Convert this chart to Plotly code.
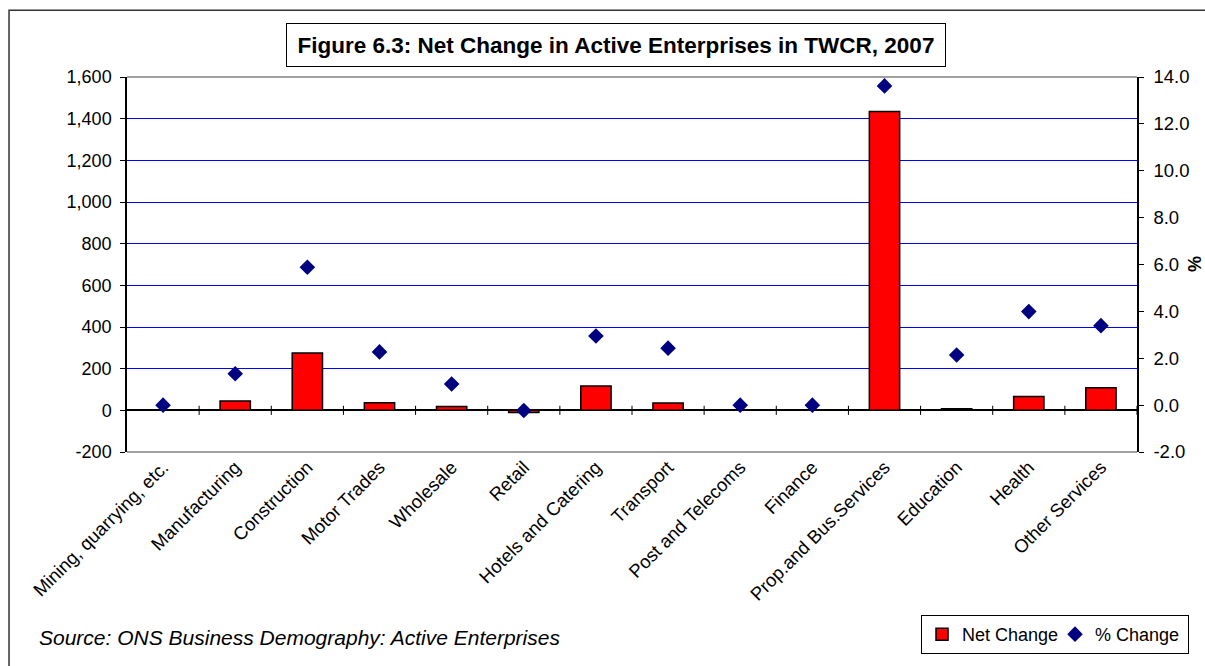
import plotly.graph_objects as go

# Sectors and their net / percentage change in active enterprises
categories = [
    "Mining, quarrying, etc.", "Manufacturing", "Construction", "Motor Trades",
    "Wholesale", "Retail", "Hotels and Catering", "Transport",
    "Post and Telecoms", "Finance", "Prop.and Bus.Services", "Education",
    "Health", "Other Services",
]
net_change = [0, 45, 275, 37, 18, -10, 117, 35, 0, 0, 1435, 8, 67, 108]
pct_change = [0.0, 1.34, 5.88, 2.27, 0.90, -0.23, 2.95, 2.43, 0.0, 0.0, 13.62, 2.14, 3.99, 3.39]

left_ticks = list(range(-200, 1601, 200))
right_ticks = list(range(-2, 15, 2))
left_text = [f"{v:,}" for v in left_ticks]
right_text = [f"{v:.1f}" for v in right_ticks]

FONT = "Liberation Sans, Arial, sans-serif"

fig = go.Figure()

fig.add_trace(go.Bar(
    x=categories, y=net_change, name="Net Change",
    marker=dict(color="#FF0000", line=dict(color="#000000", width=1.5)),
    yaxis="y",
))
fig.add_trace(go.Scatter(
    x=categories, y=pct_change, name="% Change", mode="markers",
    marker=dict(symbol="diamond", color="#000080", size=12),
    yaxis="y2",
))

shapes = []
# plot-area top and bottom border
for yp in (0, 1):
    shapes.append(dict(type="line", xref="paper", yref="paper", x0=0, x1=1, y0=yp, y1=yp,
                       line=dict(color="#808080", width=1.5)))
# tick marks between categories on the zero line
for i in range(len(categories)):
    shapes.append(dict(type="line", xref="x", yref="y", x0=i + 0.5, x1=i + 0.5, y0=-22, y1=22,
                       line=dict(color="#000000", width=1)))
# outer frame around the whole chart
shapes.append(dict(type="rect", xref="paper", yref="paper", x0=-0.1168, x1=1.2, y0=-0.8, y1=1.1777,
                   line=dict(color="#333333", width=1.5), layer="below"))

fig.update_layout(
    width=1205, height=666,
    margin=dict(l=127, r=68, t=77, b=212),
    paper_bgcolor="white", plot_bgcolor="white",
    font=dict(family=FONT, size=18, color="#000000"),
    bargap=0.58,
    showlegend=True,
    legend=dict(
        orientation="h", x=1.0515, y=-0.5385, xanchor="right", yanchor="bottom",
        bordercolor="#000000", borderwidth=1, bgcolor="white",
        font=dict(family=FONT, size=18), itemwidth=30, tracegroupgap=0,
        entrywidth=88, entrywidthmode="pixels",
    ),
    xaxis=dict(
        type="category", range=[-0.5, len(categories) - 0.5],
        tickangle=-45, showline=False, showgrid=False,
        ticks="", tickfont=dict(family=FONT, size=18.5),
    ),
    yaxis=dict(
        range=[-200, 1600], tickvals=left_ticks, ticktext=left_text,
        showline=True, linecolor="#000000", linewidth=1.5,
        ticks="outside", ticklen=5, tickcolor="#000000", ticklabelstandoff=5,
        showgrid=True, gridcolor="#0000FF", gridwidth=1,
        zeroline=True, zerolinecolor="#000000", zerolinewidth=1.5,
        tickfont=dict(family=FONT, size=18),
    ),
    yaxis2=dict(
        range=[-2, 14], tickvals=right_ticks, ticktext=right_text,
        overlaying="y", side="right",
        showline=True, linecolor="#000000", linewidth=1.5,
        ticks="outside", ticklen=5, tickcolor="#000000", ticklabelstandoff=6,
        showgrid=False, zeroline=False,
        tickfont=dict(family=FONT, size=18.5),
    ),
    shapes=shapes,
    annotations=[
        dict(text="<b>Figure 6.3: Net Change in Active Enterprises in TWCR, 2007</b>",
             xref="paper", yref="paper", x=0.4842, y=1.0849, xanchor="center", yanchor="middle",
             showarrow=False, font=dict(family=FONT, size=22.5),
             bordercolor="#000000", borderwidth=1, bgcolor="white",
             width=654, height=38, borderpad=2),
        dict(text="<i>Source: ONS Business Demography: Active Enterprises</i>",
             xref="paper", yref="paper", x=-0.0891, y=-0.4934, xanchor="left", yanchor="middle",
             showarrow=False, font=dict(family=FONT, size=21)),
        dict(text="<b>%</b>", xref="paper", yref="paper", x=1.0565, y=0.5013,
             xanchor="center", yanchor="middle", textangle=90, showarrow=False,
             font=dict(family=FONT, size=18)),
    ],
)

fig.write_html("out.html")
